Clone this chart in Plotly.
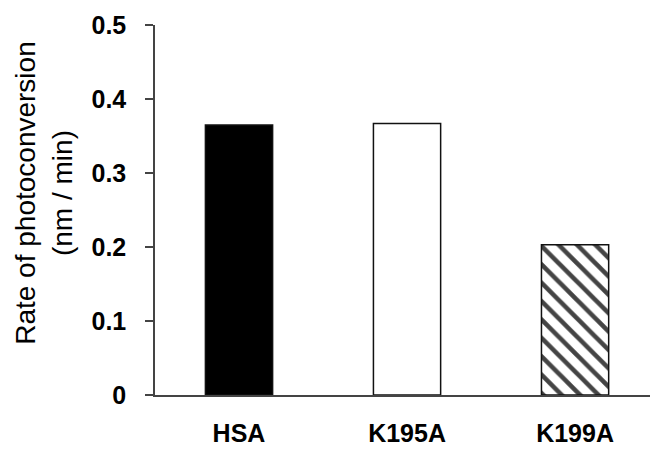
import plotly.graph_objects as go

# Photoconversion rates for albumin and its lysine mutants
categories = ["HSA", "K195A", "K199A"]
rates = [0.365, 0.367, 0.203]
y_tick_vals = [0, 0.1, 0.2, 0.3, 0.4, 0.5]
y_tick_text = ["0", "0.1", "0.2", "0.3", "0.4", "0.5"]

fills = ["black", "white", "white"]
patterns = ["", "", "\\"]

fig = go.Figure(
    go.Bar(
        x=categories,
        y=rates,
        width=0.4,
        marker=dict(
            color=fills,
            line=dict(color="#111111", width=1.5),
            pattern=dict(shape=patterns, fgcolor="black",
                         fgopacity=1, size=13, solidity=0.35, fillmode="overlay"),
        ),
        showlegend=False,
    )
)

tick_font = dict(family="Liberation Sans, Arial, sans-serif", size=25, color="black", weight="bold")

fig.update_xaxes(
    range=[-0.5, 2.446],
    showline=True, linecolor="#444444", linewidth=1.5,
    ticks="", showgrid=False, zeroline=False,
    tickfont=tick_font,
    ticklabelstandoff=15,
)
fig.update_yaxes(
    range=[0, 0.5],
    tickvals=y_tick_vals, ticktext=y_tick_text,
    showline=True, linecolor="#444444", linewidth=1.5,
    ticks="outside", ticklen=8, tickwidth=1.5, tickcolor="#444444",
    showgrid=False, zeroline=False,
    tickfont=tick_font,
    ticklabelstandoff=14,
)

# Two-line rotated y-axis title
fig.add_annotation(
    text="Rate of photoconversion<br>(nm / min)",
    textangle=-90,
    xref="paper", yref="paper",
    x=(43.5 - 155) / 495, y=(394.7 - 193) / 370,
    xanchor="center", yanchor="middle",
    showarrow=False,
    font=dict(family="Liberation Sans, Arial, sans-serif", size=28, color="black"),
)

fig.update_layout(
    width=650, height=451,
    margin=dict(l=155, r=0, t=25, b=56),
    plot_bgcolor="white", paper_bgcolor="white",
    bargap=0.6,
)

fig.write_html("out.html")
